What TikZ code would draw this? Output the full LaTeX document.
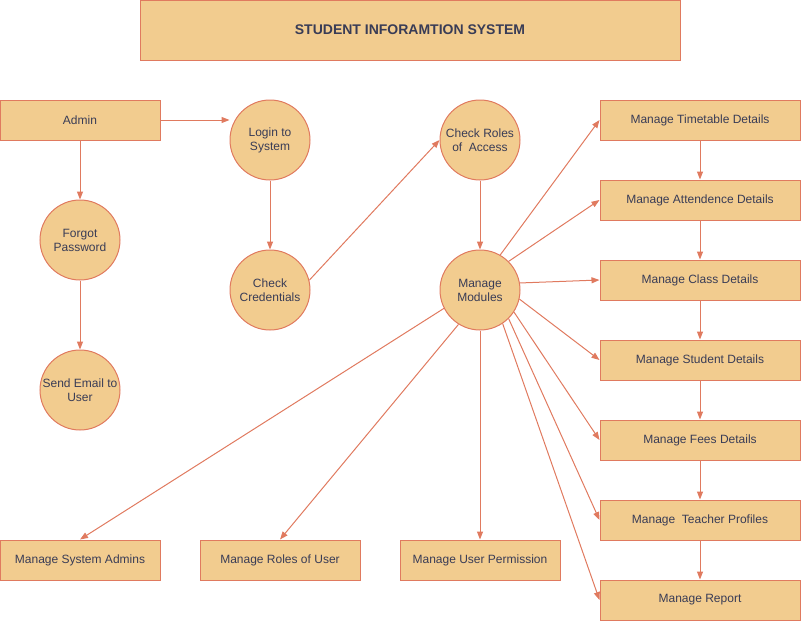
\documentclass[tikz,border=0pt]{standalone}
\usepackage{fontspec}
\setmainfont{Liberation Sans}
\usetikzlibrary{arrows.meta}
\definecolor{boxfill}{HTML}{F2CC8F}
\definecolor{boxline}{HTML}{E07A5F}
\definecolor{txt}{HTML}{393C56}
\tikzset{
  base/.style={draw=boxline, fill=boxfill, line width=1pt, text=txt, font=\fontsize{12}{14}\selectfont, align=center, inner sep=0pt},
  rectbox/.style={base, rectangle, minimum width=160pt, minimum height=40pt},
  widebox/.style={base, rectangle, minimum width=200pt, minimum height=40pt},
  circ/.style={base, circle, minimum size=80pt},
  conn/.style={draw=boxline, line width=1pt, -{Triangle[length=8pt,width=6pt]}}
}
\begin{document}
\begin{tikzpicture}[x=1pt,y=-1pt]
\useasboundingbox (0,0) rectangle (801,621);
\node[base, rectangle, minimum width=540pt, minimum height=60pt, font=\fontsize{14}{16}\selectfont\bfseries] (title) at (410,30) {STUDENT INFORAMTION SYSTEM};
\node[rectbox] (admin) at (80,120) {Admin};
\node[circ] (login) at (270,140) {Login to\\System};
\node[circ] (roles) at (480,140) {Check Roles\\of\ \ Access};
\node[circ] (forgot) at (80,240) {Forgot\\Password};
\node[circ] (cred) at (270,290) {Check\\Credentials};
\node[circ] (mm) at (480,290) {Manage\\Modules};
\node[circ] (email) at (80,390) {Send Email to\\User};
\node[widebox] (tt) at (700,120) {Manage Timetable Details};
\node[widebox] (att) at (700,200) {Manage Attendence Details};
\node[widebox] (cls) at (700,280) {Manage Class Details};
\node[widebox] (stu) at (700,360) {Manage Student Details};
\node[widebox] (fee) at (700,440) {Manage Fees Details};
\node[widebox] (tea) at (700,520) {Manage\ \ Teacher Profiles};
\node[widebox] (rep) at (700,600) {Manage Report};
\node[rectbox] (sysad) at (80,560) {Manage System Admins};
\node[rectbox] (rou) at (280,560) {Manage Roles of User};
\node[rectbox] (uper) at (480,560) {Manage User Permission};

\draw[conn] (admin.east) -- (login.west |- admin.east);
\draw[conn] (admin.south) -- (forgot.north);
\draw[conn] (forgot.south) -- (email.north);
\draw[conn] (login.south) -- (cred.north);
\draw[conn] (cred.14) -- (roles.west);
\draw[conn] (roles.south) -- (mm.north);
\draw[conn] (mm.60) -- (tt.west);
\draw[conn] (mm.45) -- (att.west);
\draw[conn] (mm.10) -- (cls.west);
\draw[conn] (mm.-13) -- (stu.west);
\draw[conn] (mm.-33) -- (fee.west);
\draw[conn] (mm.-45) -- (tea.west);
\draw[conn] (mm.-56) -- (rep.west);
\draw[conn] (mm.south) -- (uper.north);
\draw[conn] (mm.-122) -- (rou.north);
\draw[conn] (mm.-153) -- (sysad.north);
\draw[conn] (tt.south) -- (att.north);
\draw[conn] (att.south) -- (cls.north);
\draw[conn] (cls.south) -- (stu.north);
\draw[conn] (stu.south) -- (fee.north);
\draw[conn] (fee.south) -- (tea.north);
\draw[conn] (tea.south) -- (rep.north);
\end{tikzpicture}
\end{document}
